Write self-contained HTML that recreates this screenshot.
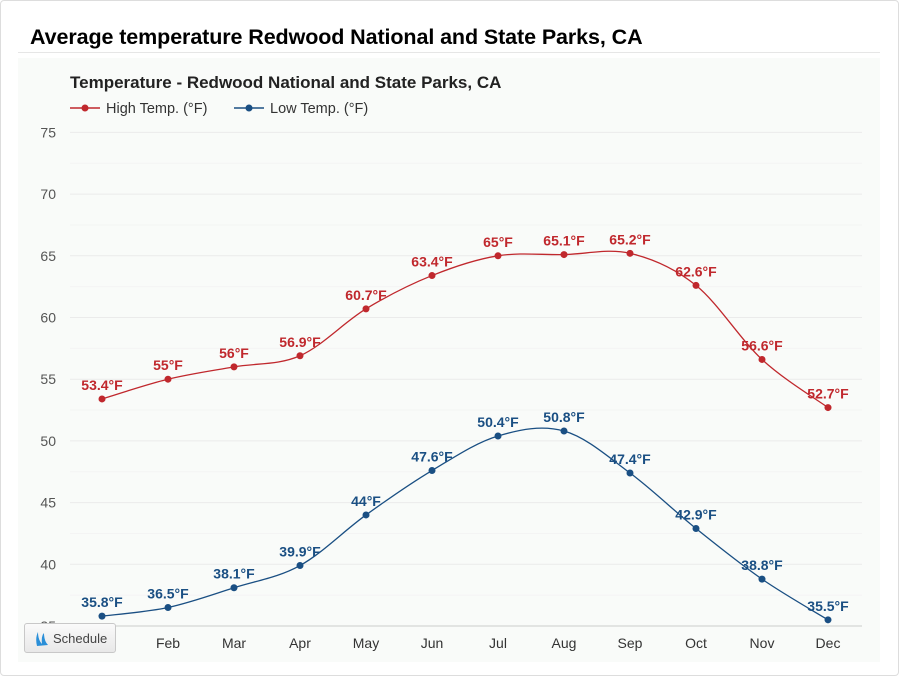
<!DOCTYPE html>
<html><head><meta charset="utf-8"><style>
body{margin:0;width:900px;height:676px;background:#fff;font-family:"Liberation Sans",Arial,sans-serif;overflow:hidden;position:relative}
#frame{position:absolute;left:0;top:0;width:897px;height:674px;border:1px solid #ddd;border-radius:4px}
#title{position:absolute;left:30px;top:25px;font-size:21.5px;font-weight:bold;color:#000;letter-spacing:-0.1px}
#sep{position:absolute;left:18px;top:52px;width:862px;height:1px;background:#e6e6e6}
#panel{position:absolute;left:18px;top:58px;width:862px;height:604px;background:#f9fbf9}
#sched{position:absolute;left:24px;top:623px;width:92px;height:30px;border:1px solid #c8c8c8;border-radius:3px;background:linear-gradient(#fafafa,#e8e8e8);font-size:13px;color:#444;box-sizing:border-box;padding:7px 0 0 28px}
</style></head><body>
<div id="frame"></div>
<div id="title">Average temperature Redwood National and State Parks, CA</div>
<div id="sep"></div>
<div id="panel"></div>
<svg id="chart" width="900" height="676" style="position:absolute;left:0;top:0" font-family="Liberation Sans, Arial, sans-serif"></svg>
<div id="sched"><svg style="position:absolute;left:9px;top:6px" width="16" height="18"><path d="M3 16 Q1 8 4 2 Q4 10 8 14 Q7 6 10 3 Q10 11 14 15 Z" fill="#2a8fd8"/></svg>Schedule</div>
<script>
const months=["Jan","Feb","Mar","Apr","May","Jun","Jul","Aug","Sep","Oct","Nov","Dec"];
const highTemps=[53.4,55,56,56.9,60.7,63.4,65,65.1,65.2,62.6,56.6,52.7];
const lowTemps=[35.8,36.5,38.1,39.9,44,47.6,50.4,50.8,47.4,42.9,38.8,35.5];
const yTicks=[35,40,45,50,55,60,65,70,75];
const NS="http://www.w3.org/2000/svg";
const svg=document.getElementById('chart');
const xs=i=>102+i*66;
const ys=v=>626-(v-35)*12.34;
function mk(t,a,p){const e=document.createElementNS(NS,t);for(const k in a)e.setAttribute(k,a[k]);(p||svg).appendChild(e);return e;}
for(let v=35;v<=75;v+=2.5){
  const major=(v%5===0);
  const g=mk('line',{x1:70,x2:862,y1:ys(v),y2:ys(v),stroke:v==35?'#ccc':(major?'#ebebeb':'#f4f4f4'),'stroke-width':1});
  
  
}
yTicks.forEach(v=>{
  const t=mk('text',{x:56,y:ys(v)+5,'text-anchor':'end','font-size':14,fill:'#555'});t.textContent=v;
  
  
});
months.forEach((m,i)=>{
  if(i==0)return;
  const t=mk('text',{x:xs(i),y:648,'text-anchor':'middle','font-size':14,fill:'#333'});t.textContent=m;
  
  
});
function path(vals){
  const p=vals.map((v,i)=>[xs(i),ys(v)]);
  let d=`M${p[0][0]},${p[0][1]}`;
  for(let i=0;i<p.length-1;i++){
    const p0=p[i-1]||p[i],p1=p[i],p2=p[i+1],p3=p[i+2]||p2;
    const k=1/6;
    d+=` C${p1[0]+(p2[0]-p0[0])*k},${p1[1]+(p2[1]-p0[1])*k} ${p2[0]-(p3[0]-p1[0])*k},${p2[1]-(p3[1]-p1[1])*k} ${p2[0]},${p2[1]}`;
  }
  return d;
}
function series(vals,color,name){
  const l=mk('path',{d:path(vals),fill:'none',stroke:color,'stroke-width':1.3});
  
  
  vals.forEach((v,i)=>{
    const c=mk('circle',{cx:xs(i),cy:ys(v),r:3.5,fill:color});
    
    
    const t=mk('text',{x:xs(i),y:ys(v)-9,'text-anchor':'middle','font-size':14,'font-weight':'bold',fill:color});
    t.textContent=v+'°F';
    
    
  });
}
series(highTemps,'#c0282d','high-temp');
series(lowTemps,'#1a4f83','low-temp');
const ct=mk('text',{x:70,y:88,'font-size':17,'font-weight':'bold',fill:'#222'});ct.textContent='Temperature - Redwood National and State Parks, CA';


[['#c0282d','High Temp. (°F)',70],['#1a4f83','Low Temp. (°F)',234]].forEach(([c,l,x])=>{
  const g=mk('g',{});
  
  
  mk('line',{x1:x,x2:x+30,y1:108,y2:108,stroke:c,'stroke-width':1.5},g);
  mk('circle',{cx:x+15,cy:108,r:3.5,fill:c},g);
  const t=mk('text',{x:x+36,y:113,'font-size':14.5,fill:'#333'},g);t.textContent=l;
});
</script>
</body></html>
